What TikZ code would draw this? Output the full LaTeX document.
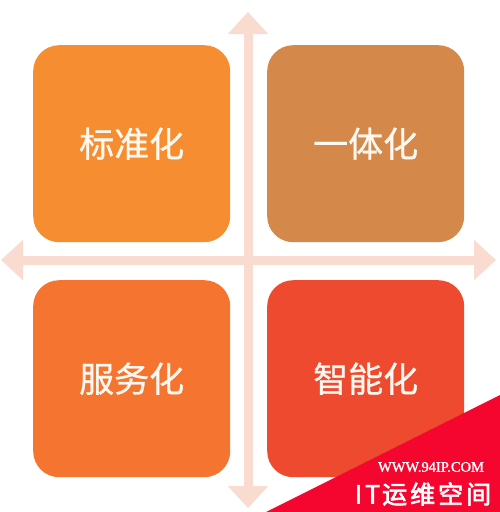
\documentclass[tikz,border=0pt]{standalone}
\usepackage{fontspec}
\newfontfamily\cjk{Noto Sans CJK SC}[FakeBold=0.8]
\newfontfamily\cjkb{Noto Sans CJK SC}[FakeBold=2.5]
\newfontfamily\wmserif{Liberation Serif}[FakeBold=1.5]
\usetikzlibrary{arrows.meta}
\definecolor{arrowpink}{HTML}{FADBD0}
\definecolor{cA}{HTML}{F78D31}
\definecolor{cB}{HTML}{D4884A}
\definecolor{cC}{HTML}{F47430}
\definecolor{cD}{HTML}{EE4A2F}
\definecolor{wmred}{HTML}{F5062E}
\definecolor{txt}{HTML}{FFF8F0}
\tikzset{
  quad/.style={minimum width=197pt, minimum height=197pt, rounded corners=26pt,
    inner sep=0pt, text=txt, font=\cjk\fontsize{35}{35}\selectfont, anchor=north west},
  axis/.style={draw=arrowpink, line width=9pt,
    {Triangle[length=22pt,width=39pt]}-{Triangle[length=22pt,width=39pt]}}
}
\begin{document}
\begin{tikzpicture}[x=1pt,y=-1pt]
\useasboundingbox (0,0) rectangle (500,512);
\fill[white] (0,0) rectangle (500,512);
% axes
\coordinate (ytop) at (248,12);
\coordinate (ybot) at (248,508);
\coordinate (xleft) at (1,260);
\coordinate (xright) at (496,260);
\draw[axis] (ytop) -- (ybot);
\draw[axis] (xleft) -- (xright);
% quadrants
\node[quad, fill=cA] (std) at (33,45) {标准化};
\node[quad, fill=cB] (int) at (267,45) {一体化};
\node[quad, fill=cC] (svc) at (33,280) {服务化};
\node[quad, fill=cD] (ai)  at (267,280) {智能化};
% watermark
\fill[wmred] (266,512) -- (500,395) -- (500,512) -- cycle;
\node[text=white, font=\wmserif\fontsize{14.5}{14.5}\selectfont] (wmurl) at (431,467) {WWW.94IP.COM};
\node[text=white, font=\cjkb\fontsize{25}{25}\selectfont, inner sep=0pt] (wmname) at (423,494) {I\hspace{3pt}T\hspace{2pt}运\hspace{3pt}维\hspace{3pt}空\hspace{3pt}间};
\end{tikzpicture}
\end{document}
